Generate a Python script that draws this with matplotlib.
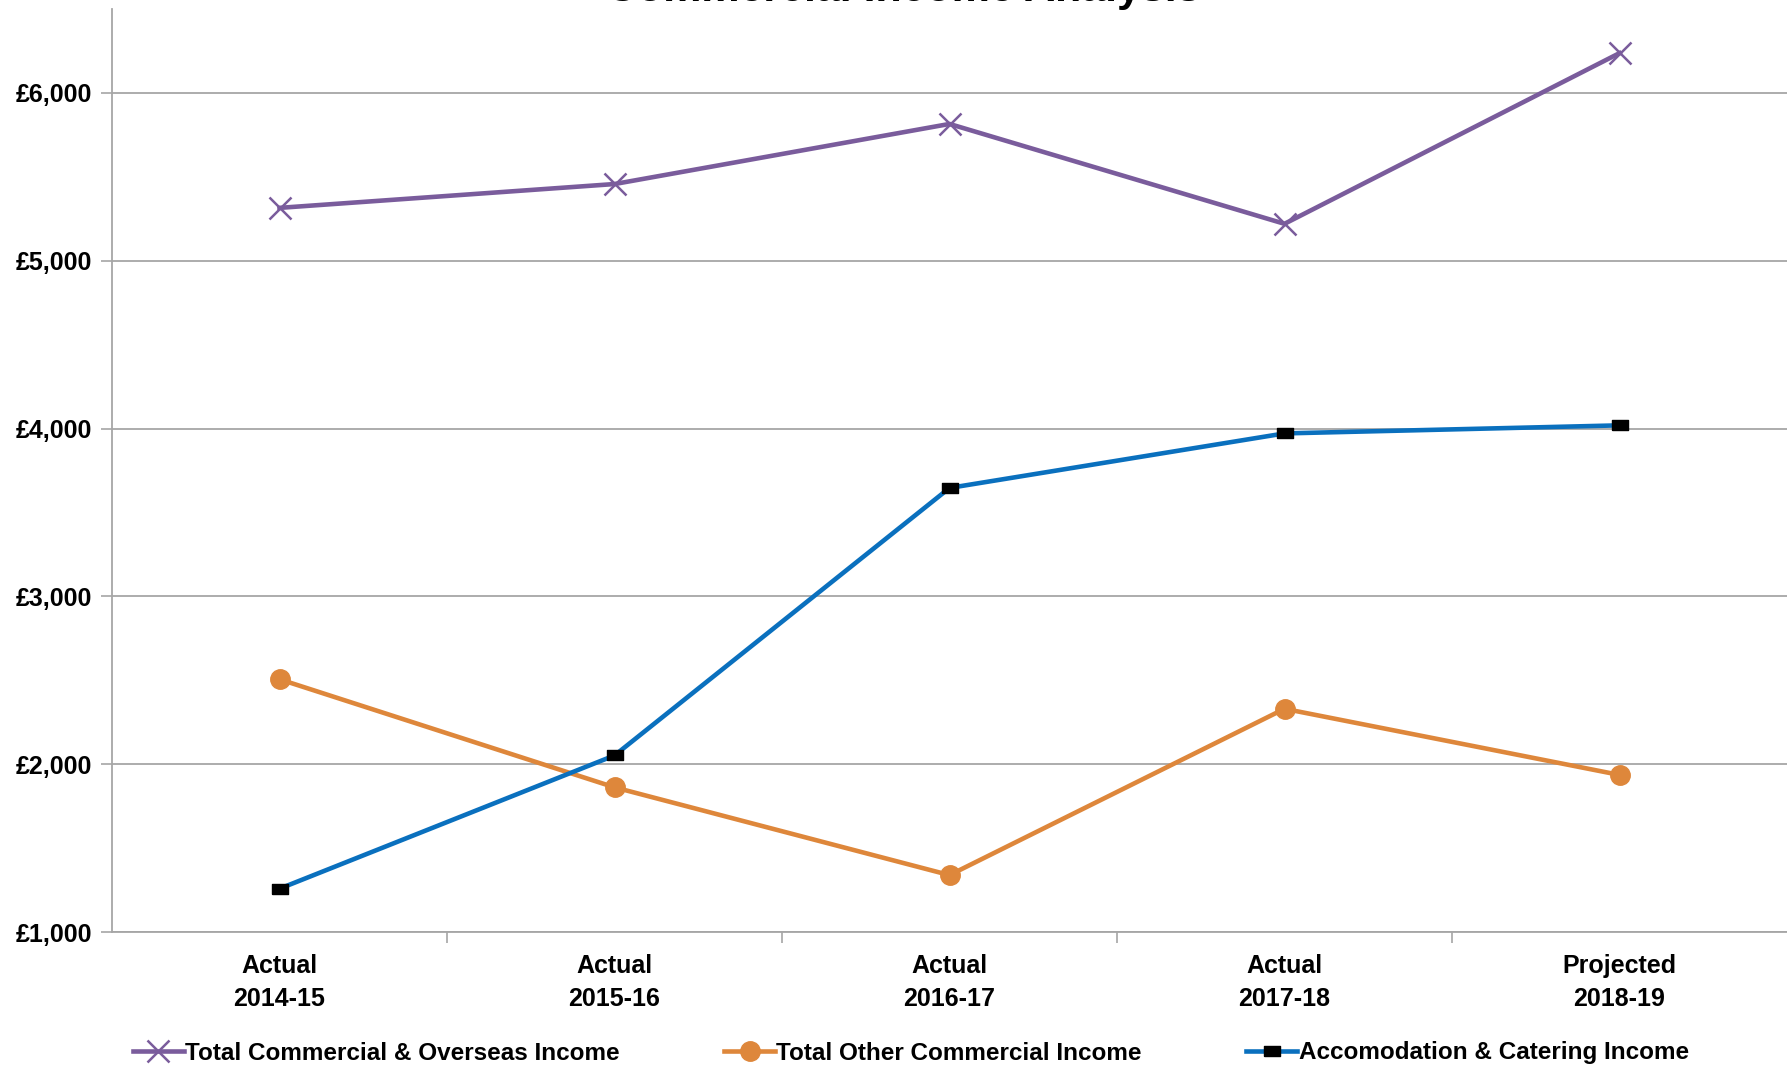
import matplotlib
matplotlib.use("Agg")
import matplotlib.pyplot as plt
from matplotlib.ticker import FuncFormatter, FixedLocator

categories = ["Actual\n2014-15", "Actual\n2015-16", "Actual\n2016-17", "Actual\n2017-18", "Projected\n2018-19"]
commercial_overseas = [5315, 5457, 5815, 5220, 6237]
other_commercial = [2506, 1862, 1339, 2330, 1936]
accom_catering = [1258, 2052, 3646, 3971, 4019]
y_ticks = [1000, 2000, 3000, 4000, 5000, 6000]

plt.rcParams['font.family'] = ['Liberation Sans', 'DejaVu Sans']

fig = plt.figure(figsize=(17.87, 10.72), dpi=100)
ax = fig.add_axes([112/1787, 1 - 932/1072, 1 - 112/1787, (932 - 9)/1072])

rect_marker = [(-1.6, -1), (1.6, -1), (1.6, 1), (-1.6, 1), (-1.6, -1)]

x = list(range(len(categories)))
ax.plot(x, commercial_overseas, color='#7A5C9C', lw=3.3, marker='x', ms=16, mew=1.8,
        label='Total Commercial & Overseas Income', zorder=4)
ax.plot(x, other_commercial, color='#DE873B', lw=3.3, marker='o', ms=14,
        label='Total Other Commercial Income', zorder=4)
ax.plot(x, accom_catering, color='#0A70BE', lw=3.3, marker=rect_marker, ms=12,
        mfc='black', mec='black', mew=1,
        label='Accomodation & Catering Income', zorder=4)

ax.set_xlim(-0.5, len(categories) - 0.5)
ax.set_ylim(1000, 6500)
ax.yaxis.set_major_locator(FixedLocator(y_ticks))
ax.yaxis.set_major_formatter(FuncFormatter(lambda v, p: f"£{int(v):,}"))
ax.grid(axis='y', color='#A6A6A6', lw=1.3)
ax.set_axisbelow(True)

ax.set_xticks(x)
ax.set_xticklabels(categories, fontsize=18, fontweight='bold', linespacing=1.45)
ax.set_xticks([i + 0.5 for i in x[:-1]], minor=True)
ax.tick_params(axis='x', which='major', length=0, pad=16)
ax.tick_params(axis='x', which='minor', length=8, color='#A6A6A6', width=1.2)
ax.tick_params(axis='y', length=8, color='#A6A6A6', width=1.2, labelsize=18, pad=6)
for lab in ax.get_yticklabels():
    lab.set_fontweight('bold')

for s in ['top', 'right']:
    ax.spines[s].set_visible(False)
for s in ['left', 'bottom']:
    ax.spines[s].set_color('#A6A6A6')
    ax.spines[s].set_linewidth(1.3)

fig.text(0.5055, 1 - 1.5/1072, "Commercial Income Analysis", ha='center', va='baseline',
         fontsize=31, fontweight='bold')

leg = fig.legend(loc='center', bbox_to_anchor=(0.5096, 1 - 1053/1072), ncol=3, frameon=False,
                 prop={'size': 17.5, 'weight': 'bold'}, handlelength=2.1, handletextpad=0.05,
                 columnspacing=4.3, borderaxespad=0)

fig.savefig("out.png", dpi=100)
